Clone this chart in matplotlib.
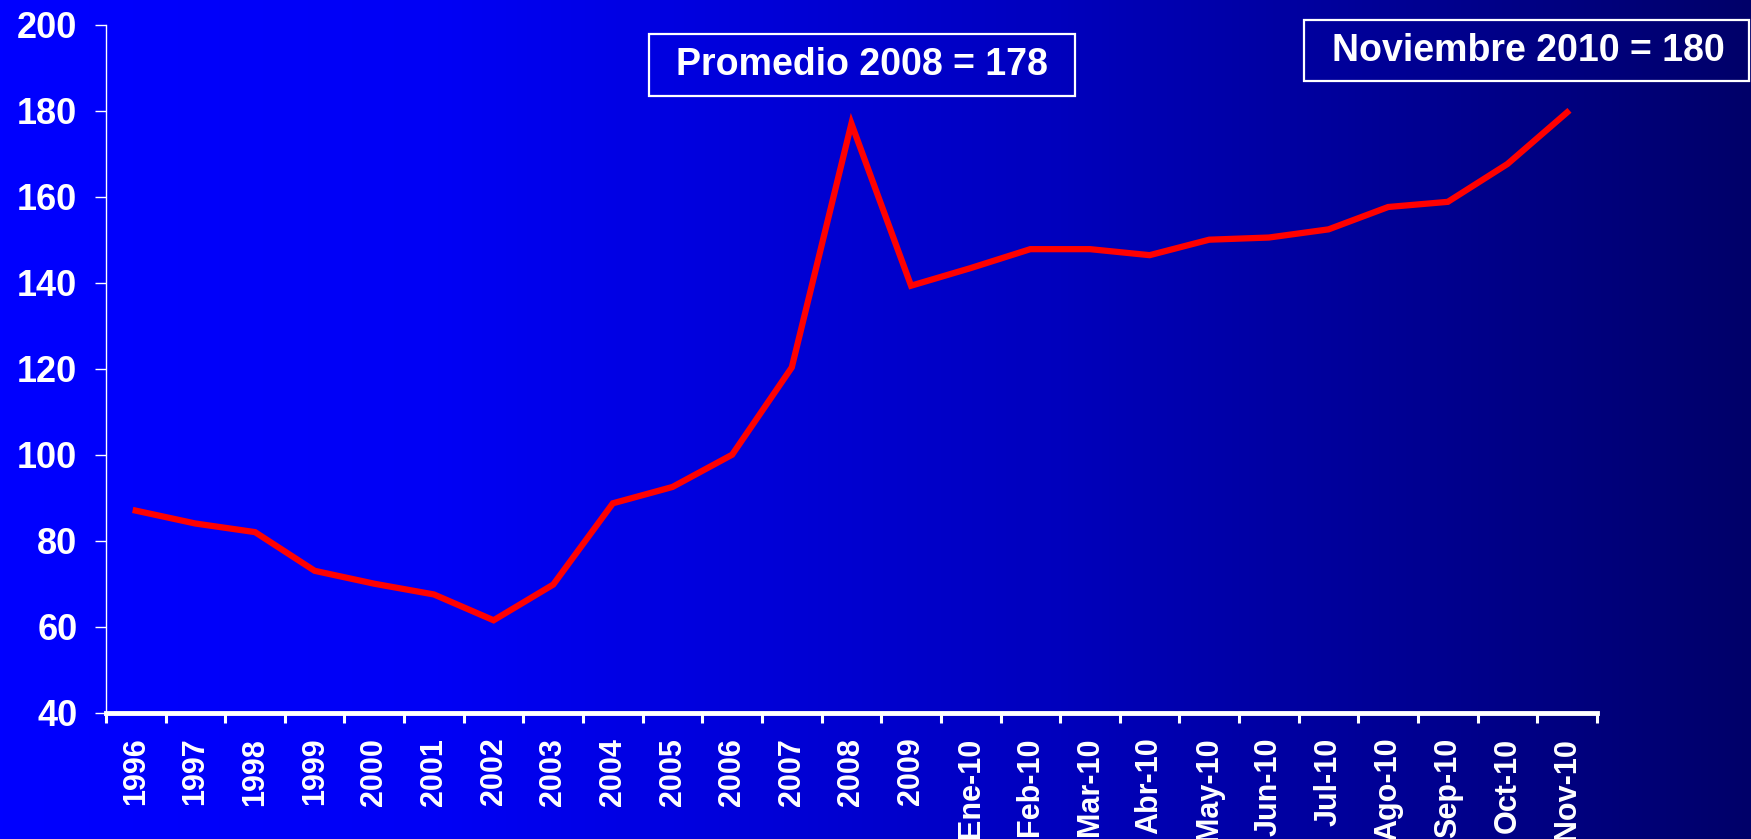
import numpy as np
import matplotlib
matplotlib.use("Agg")
import matplotlib.pyplot as plt
from matplotlib.patches import Rectangle
from matplotlib.ticker import FixedLocator

# Índice de precios
categorias = ["1996", "1997", "1998", "1999", "2000", "2001", "2002", "2003",
              "2004", "2005", "2006", "2007", "2008", "2009",
              "Ene-10", "Feb-10", "Mar-10", "Abr-10", "May-10", "Jun-10",
              "Jul-10", "Ago-10", "Sep-10", "Oct-10", "Nov-10"]
valores = [87, 84, 82, 73, 70, 67.5, 61.5, 69.8, 88.7, 92.5, 100, 120.3,
           177, 139.3, 143.4, 147.8, 147.8, 146.4, 150, 150.5, 152.4,
           157.6, 158.8, 167.6, 179.6]
y_ticks = [40, 60, 80, 100, 120, 140, 160, 180, 200]
etiqueta_2008 = "Promedio 2008 = 178"
etiqueta_nov = "Noviembre 2010 = 180"

plt.rcParams["font.family"] = ["Liberation Sans", "DejaVu Sans"]
plt.rcParams["font.weight"] = "bold"

fig = plt.figure(figsize=(17.51, 8.39), dpi=100)

# horizontal gradient background: bright blue -> navy
bg = fig.add_axes([0, 0, 1, 1], zorder=0)
xs = np.linspace(0, 1, 512)
blue = np.interp(xs, [0.0, 0.25, 0.6, 1.0], [255, 245, 190, 105]) / 255
grad = np.zeros((1, xs.size, 3))
grad[0, :, 2] = blue
bg.imshow(grad, aspect="auto", extent=[0, 1, 0, 1])
bg.axis("off")

ax = fig.add_axes([0.0605, 0.1505, 0.8515, 0.8201], zorder=1)
ax.patch.set_alpha(0)

x = np.arange(len(categorias))
ax.plot(x, valores, color="#ff0000", lw=4.5, solid_joinstyle="miter")

ax.set_xlim(-0.5, len(categorias) - 0.5)
ax.set_ylim(40, 200)

for side in ("top", "right"):
    ax.spines[side].set_visible(False)
ax.spines["left"].set_color("white")
ax.spines["left"].set_linewidth(1.0)
ax.spines["bottom"].set_color("white")
ax.spines["bottom"].set_linewidth(3.5)

ax.set_yticks(y_ticks)
ax.tick_params(axis="y", colors="white", length=8, width=1.0,
               labelsize=26, pad=12.5)
ax.set_xticks(x)
ax.set_xticklabels(categorias, rotation=90)
ax.xaxis.set_minor_locator(FixedLocator(np.arange(-0.5, len(categorias), 1.0)))
ax.tick_params(axis="x", which="major", length=0, colors="white",
               labelsize=22, pad=18)
ax.tick_params(axis="x", which="minor", length=7, width=2.2, color="white")
for lab in ax.get_xticklabels() + ax.get_yticklabels():
    lab.set_fontweight("bold")
    lab.set_color("white")

# annotation boxes (figure coordinates)
for (x0, y0, w, h), (tx, ty), txt in [
        ((0.3707, 0.8856, 0.2433, 0.0739), (0.4923, 0.9225), etiqueta_2008),
        ((0.7447, 0.9035, 0.2540, 0.0727), (0.8726, 0.9398), etiqueta_nov)]:
    fig.add_artist(Rectangle((x0, y0), w, h, transform=fig.transFigure,
                             fill=False, ec="white", lw=1.6, zorder=3))
    fig.text(tx, ty, txt, color="white", fontsize=27, fontweight="bold",
             ha="center", va="center", zorder=4)

fig.savefig("out.png", dpi=100)
